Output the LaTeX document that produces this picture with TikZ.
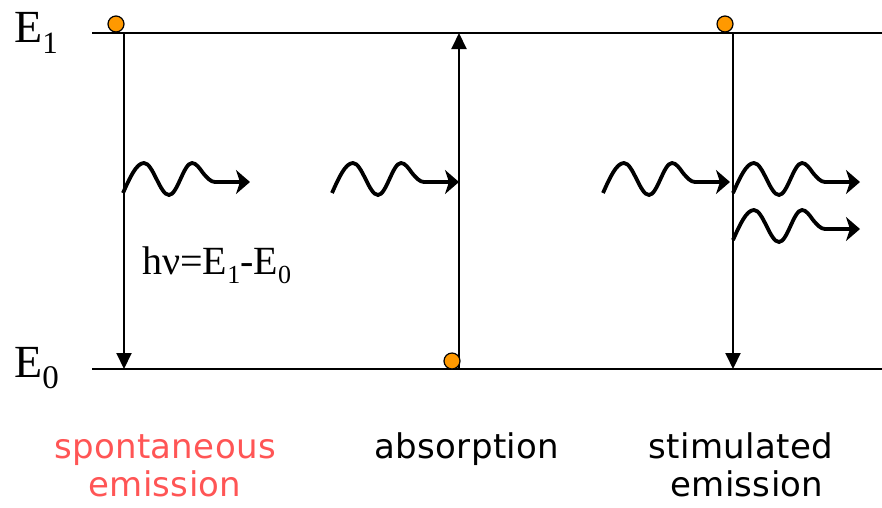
\documentclass[tikz,border=0pt]{standalone}
\usepackage{fontspec}
\setmainfont{Liberation Serif}
\newfontfamily\labelfont[LetterSpace=1]{DejaVu Sans}
\usetikzlibrary{arrows.meta}
\definecolor{dotorange}{RGB}{255,153,0}
\definecolor{labelred}{RGB}{255,85,85}
\tikzset{
  levelline/.style={line width=2pt},
  transarrow/.style={line width=2pt, -{Triangle[length=16pt,width=15pt]}},
  photonline/.style={line width=3.8pt, -{Stealth[length=14pt,width=24pt,inset=4pt]}},
  edot/.style={circle, draw, line width=1.2pt, fill=dotorange, minimum size=16pt, inner sep=0pt},
  lvl/.style={font=\fontsize{46}{46}\selectfont, anchor=base west, inner sep=0pt},
  hnu/.style={font=\fontsize{40}{40}\selectfont, anchor=base west, inner sep=0pt},
  lbl/.style={font=\labelfont\fontsize{34}{38}\selectfont, anchor=base, inner sep=0pt},
  pics/photon/.style={code={
    \draw[photonline] (0,0) sin (21,-30) cos (33.5,-14) sin (46,2) cos (57.5,-14) sin (69,-30) cos (80,-20) sin (92,-11) -- (127,-11);
  }}
}
\begin{document}
\begin{tikzpicture}[x=1pt,y=-1pt]
\useasboundingbox (0,0) rectangle (882,507);
% energy levels
\coordinate (E1a) at (92,33);
\coordinate (E1b) at (882,33);
\coordinate (E0a) at (92,369);
\coordinate (E0b) at (882,369);
\draw[levelline] (E1a) -- (E1b);
\draw[levelline] (E0a) -- (E0b);
\node[lvl] (lE1) at (14,42) {E\raisebox{-11pt}{\fontsize{31}{31}\selectfont 1}};
\node[lvl] (lE0) at (14,377) {E\raisebox{-11pt}{\fontsize{33}{33}\selectfont 0}};
% transitions
\coordinate (sTop) at (124,33);
\coordinate (sBot) at (124,369);
\coordinate (aTop) at (459,33);
\coordinate (aBot) at (459,369);
\coordinate (tTop) at (733,33);
\coordinate (tBot) at (733,369);
\draw[transarrow] (sTop) -- (sBot);
\draw[transarrow] (aBot) -- (aTop);
\draw[transarrow] (tTop) -- (tBot);
% electrons
\node[edot] (d1) at (116,24) {};
\node[edot] (d2) at (452,361) {};
\node[edot] (d3) at (725,24) {};
% photons
\pic at (123,193) {photon};
\pic at (332,193) {photon};
\pic at (603,193) {photon};
\pic at (733,193) {photon};
\pic at (733,240) {photon};
% formula
\node[hnu] (form) at (142,274) {hν=E\raisebox{-9pt}{\fontsize{26}{26}\selectfont 1}-E\raisebox{-9pt}{\fontsize{26}{26}\selectfont 0}};
% labels
\node[lbl, text=labelred] (sp1) at (165,458) {spontaneous};
\node[lbl, text=labelred] (sp2) at (165,496) {emission};
\node[lbl] (ab1) at (467,458) {absorption};
\node[lbl] (st1) at (741,458) {stimulated};
\node[lbl] (st2) at (747,496) {emission};
\end{tikzpicture}
\end{document}
